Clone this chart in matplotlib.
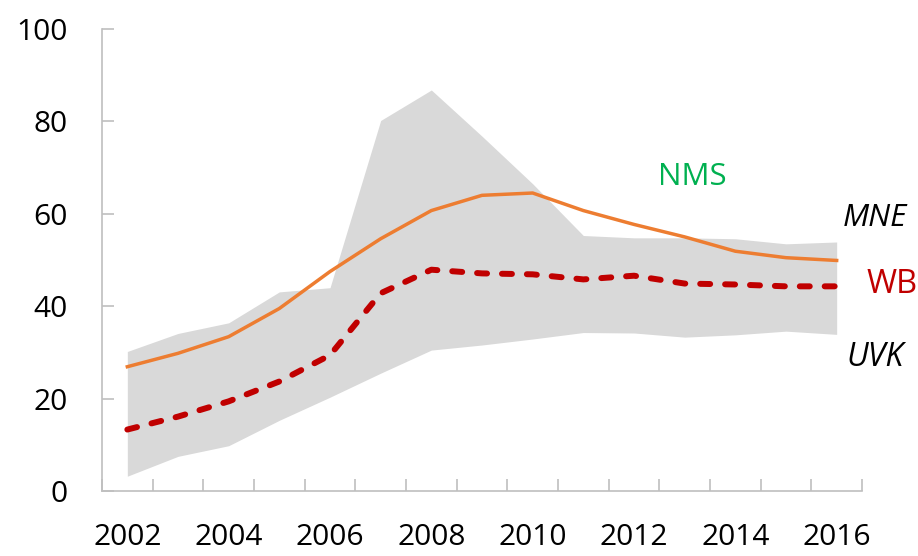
import matplotlib
matplotlib.use("Agg")
import matplotlib.pyplot as plt
import numpy as np

years = list(range(2002, 2017))
nms = [26.9, 29.8, 33.4, 39.5, 47.5, 54.6, 60.7, 64.0, 64.5, 60.7, 57.7, 55.0, 51.9, 50.5, 49.9]
wb = [13.3, 16.1, 19.4, 23.7, 29.4, 42.8, 47.9, 47.1, 46.9, 45.8, 46.6, 44.9, 44.7, 44.3, 44.3]
band_upper = [30.2, 34.1, 36.4, 43.1, 44.0, 80.2, 86.8, 76.8, 66.5, 55.3, 54.8, 54.8, 54.6, 53.5, 53.9]
band_lower = [3.2, 7.5, 9.8, 15.3, 20.3, 25.5, 30.5, 31.6, 32.9, 34.3, 34.2, 33.3, 33.8, 34.6, 33.9]
label_years = [2002, 2004, 2006, 2008, 2010, 2012, 2014, 2016]

plt.rcParams['font.family'] = ['Open Sans', 'DejaVu Sans']

fig = plt.figure(figsize=(9.18, 5.56), dpi=100)
ax = fig.add_axes([102/918, 1-491/556, 760/918, 462/556])

x = np.arange(len(years))
ax.fill_between(x, band_lower, band_upper, color='#D9D9D9', linewidth=0, zorder=1)
ax.plot(x, wb, color='#C00000', linewidth=4.3, dashes=(1.67, 2.5),
        dash_capstyle='round', solid_capstyle='round', zorder=3)
ax.plot(x, nms, color='#ED7D31', linewidth=2.5, zorder=4)

ax.set_xlim(-0.5, len(years) - 0.5)
ax.set_ylim(0, 100)

gray = '#BFBFBF'
for s in ['top', 'right']:
    ax.spines[s].set_visible(False)
for s in ['left', 'bottom']:
    ax.spines[s].set_color(gray)
    ax.spines[s].set_linewidth(1.2)

ax.set_xticks(np.arange(-0.5, len(years)), minor=False)
ax.set_xticklabels([])
lab_pos = [years.index(y) for y in label_years]
ax.set_xticks(lab_pos, minor=True)
ax.set_xticklabels([str(y) for y in label_years], minor=True)
ax.tick_params(axis='x', which='major', direction='in', length=8.6, width=1.2, color=gray)
ax.tick_params(axis='x', which='minor', length=0, pad=23, labelsize=21.5)

ax.set_yticks([0, 20, 40, 60, 80, 100])
ax.tick_params(axis='y', direction='in', length=8.6, width=1.2, color=gray, pad=25, labelsize=21.5)

ax.text(11.16, 67.9, 'NMS', color='#00B050', fontsize=22.5, ha='center', va='center')
ax.text(14.76, 59.0, 'MNE', color='black', fontsize=22.5, style='italic', ha='center', va='center', clip_on=False)
ax.text(15.1, 44.6, 'WB', color='#C00000', fontsize=23.5, ha='center', va='center', clip_on=False)
ax.text(14.76, 28.8, 'UVK', color='black', fontsize=23, style='italic', ha='center', va='center', clip_on=False)

fig.savefig('out.png', dpi=100)
